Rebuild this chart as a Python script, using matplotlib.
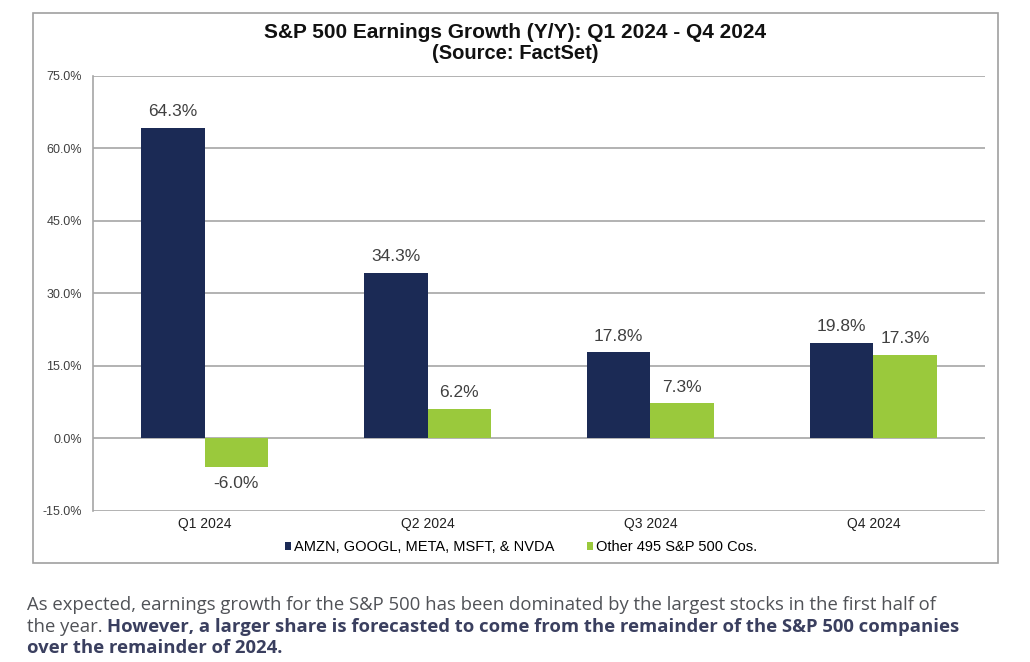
import numpy as np
import matplotlib.pyplot as plt
from matplotlib.patches import Rectangle

quarters = ["Q1 2024", "Q2 2024", "Q3 2024", "Q4 2024"]
big5 = [64.3, 34.3, 17.8, 19.8]
others = [-6.0, 6.2, 7.3, 17.3]
series_names = ["AMZN, GOOGL, META, MSFT, & NVDA", "Other 495 S&P 500 Cos."]
yticks = [-15, 0, 15, 30, 45, 60, 75]

navy = "#1b2a55"
green = "#9ac93c"
gray_txt = "#404040"

plt.rcParams["font.family"] = ["Liberation Sans", "DejaVu Sans"]

fig = plt.figure(figsize=(10.30, 6.62), dpi=100)

# outer chart frame
fig.patches.append(Rectangle((0.032, 0.1495), 0.937, 0.831, transform=fig.transFigure,
                             fill=False, edgecolor="#a0a0a0", linewidth=1.2))

ax = fig.add_axes([0.0903, 0.2281, 0.866, 0.6571])
x = np.arange(len(quarters))
w = 0.285
b1 = ax.bar(x - w / 2, big5, w, color=navy, zorder=3, label=series_names[0])
b2 = ax.bar(x + w / 2, others, w, color=green, zorder=3, label=series_names[1])

for bars, vals in [(b1, big5), (b2, others)]:
    for r, v in zip(bars, vals):
        cx = r.get_x() + r.get_width() / 2
        if v >= 0:
            ax.text(cx, v + 1.8, f"{v:.1f}%", ha="center", va="bottom",
                    fontsize=12.5, color=gray_txt)
        else:
            ax.text(cx, v - 1.8, f"{v:.1f}%", ha="center", va="top",
                    fontsize=12.5, color=gray_txt)

ax.set_xlim(-0.5, 3.5)
ax.set_ylim(-15, 75)
ax.set_yticks(yticks)
ax.set_yticklabels([f"{t:.1f}%" for t in yticks], fontsize=9, color=gray_txt)
ax.set_xticks(x)
ax.set_xticklabels(quarters, fontsize=10, color="#202020")
ax.tick_params(axis="x", length=0, pad=4)
ax.tick_params(axis="y", length=0, pad=8)
ax.yaxis.grid(True, color="#a6a6a6", linewidth=1.2, zorder=0)
for s in ["top", "right", "bottom"]:
    ax.spines[s].set_visible(False)
ax.spines["left"].set_color("#a6a6a6")
ax.spines["left"].set_linewidth(1.2)

fig.text(0.5, 0.951, "S&P 500 Earnings Growth (Y/Y): Q1 2024 - Q4 2024",
         ha="center", va="center", fontsize=15, fontweight="bold", color="#111111")
fig.text(0.5, 0.919, "(Source: FactSet)", ha="center", va="center",
         fontsize=14.5, fontweight="bold", color="#111111")

ax.legend(loc="center", bbox_to_anchor=(0.48, -0.083), ncol=2, frameon=False,
          fontsize=10.5, handlelength=0.45, handleheight=0.45, handletextpad=0.2,
          columnspacing=2.2)

# caption below the chart
cap_font = "Open Sans"
cap_size = 13.3
cap_color = "#505257"
bold_color = "#3a3f5f"
fig.text(0.026, 0.086, "As expected, earnings growth for the S&P 500 has been dominated by the largest stocks in the first half of",
         fontsize=cap_size, family=cap_font, color=cap_color, va="center")
t1 = fig.text(0.026, 0.053, "the year. ", fontsize=cap_size, family=cap_font, color=cap_color, va="center")
fig.canvas.draw()
bb = t1.get_window_extent(renderer=fig.canvas.get_renderer())
fig.text(bb.x1 / fig.bbox.width, 0.053,
         "However, a larger share is forecasted to come from the remainder of the S&P 500 companies",
         fontsize=cap_size, family=cap_font, color=bold_color, fontweight="bold", va="center")
fig.text(0.026, 0.021, "over the remainder of 2024.", fontsize=cap_size, family=cap_font,
         color=bold_color, fontweight="bold", va="center")

fig.savefig("out.png", dpi=100)
